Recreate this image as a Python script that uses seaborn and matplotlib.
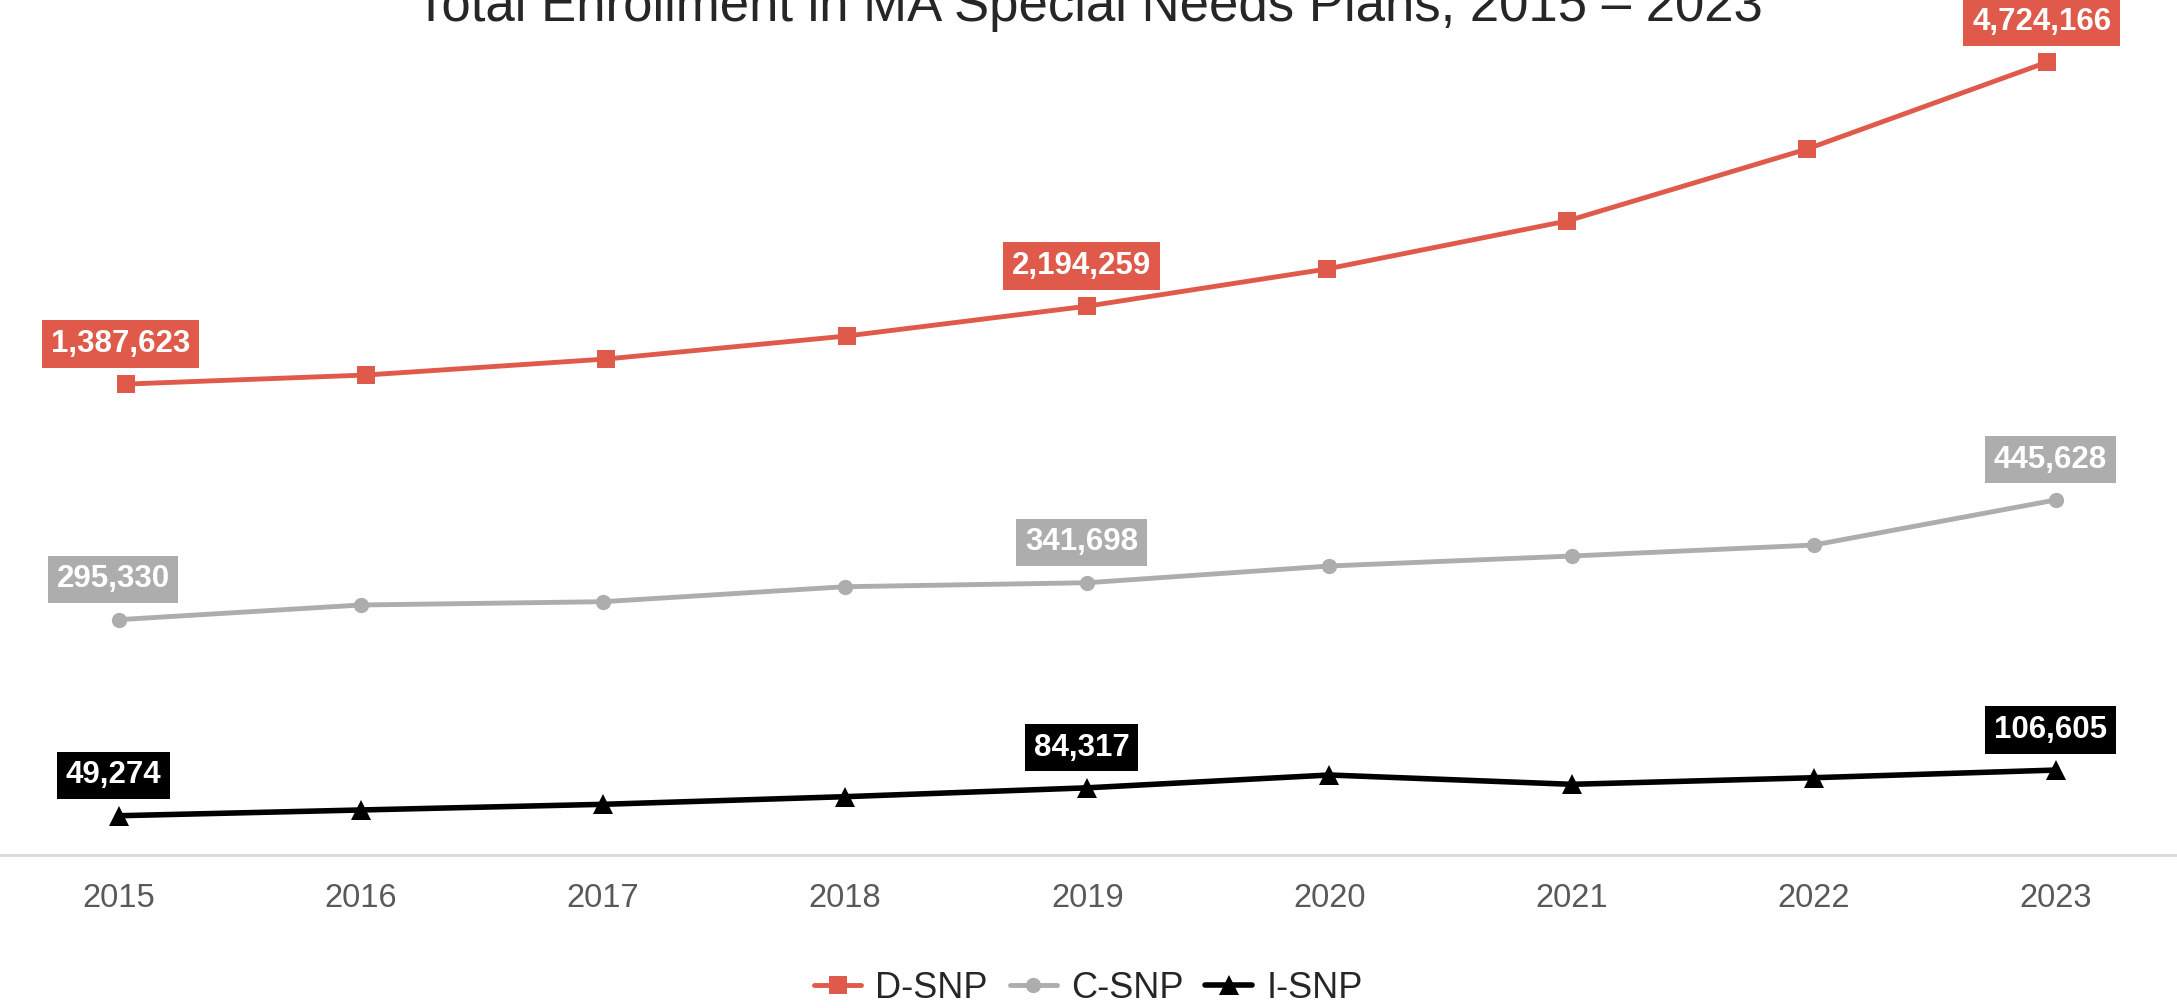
import pandas as pd
import seaborn as sns
import matplotlib.pyplot as plt

# enrollment values
years = [2015, 2016, 2017, 2018, 2019, 2020, 2021, 2022, 2023]
d_snp = [1387623, 1481800, 1647600, 1885900, 2194259, 2580100, 3077500, 3823600, 4724166]
c_snp = [295330, 313750, 317900, 336700, 341698, 362700, 375200, 389000, 445628]
i_snp = [49274, 56500, 63600, 73200, 84317, 100400, 88700, 97000, 106605]
label_years = [2015, 2019, 2023]
series_names = ['D-SNP', 'C-SNP', 'I-SNP']
title = 'Total Enrollment in MA Special Needs Plans, 2015 \u2013 2023'

red = '#E05A4B'
grey = '#ADADAD'
black = '#000000'

sns.set_style('white')
plt.rcParams['font.family'] = ['Liberation Sans', 'DejaVu Sans']

fig = plt.figure(figsize=(21.77, 10.08), dpi=100)
rect = [0, 153 / 1008, 1, 855 / 1008]
ax = fig.add_axes(rect)
# D-SNP sits on its own hidden secondary scale (own x and y)
ax2 = fig.add_axes(rect)
ax2.patch.set_visible(False)

df = pd.DataFrame({'year': years, 'D-SNP': d_snp, 'C-SNP': c_snp, 'I-SNP': i_snp})

sns.lineplot(data=df, x='year', y='C-SNP', ax=ax, color=grey, lw=3.5,
             marker='o', markersize=11, markeredgewidth=0)
sns.lineplot(data=df, x='year', y='I-SNP', ax=ax, color=black, lw=4,
             marker='^', markersize=15, markeredgewidth=0)
sns.lineplot(data=df, x='year', y='D-SNP', ax=ax2, color=red, lw=3.5,
             marker='s', markersize=13, markeredgewidth=0)

ax.set_ylim(0, 855 * 1255)
ax.set_xlim(2014.51, 2023.5)
ax2.set_ylim(-337 * 10362, 518 * 10362)
ax2.set_xlim(2014.475, 2023.54)

for a in (ax, ax2):
    a.set_yticks([])
    a.set_ylabel('')
    a.set_xlabel('')
    for s in ['top', 'left', 'right']:
        a.spines[s].set_visible(False)
ax2.spines['bottom'].set_visible(False)
ax2.set_xticks([])
ax.spines['bottom'].set_color('#D9D9D9')
ax.spines['bottom'].set_linewidth(2)

ax.set_xticks(years)
ax.set_xticklabels([str(y) for y in years])
ax.tick_params(axis='x', length=0, pad=20, labelsize=23.5, labelcolor='#595959')

for a, col, vals in [(ax2, red, d_snp), (ax, grey, c_snp), (ax, black, i_snp)]:
    for yr, v in zip(years, vals):
        if yr in label_years:
            a.annotate(f'{v:,}', xy=(yr, v), xytext=(-4, 29), textcoords='offset points',
                       ha='center', va='center', color='white', fontweight='bold',
                       fontsize=22.5, annotation_clip=False,
                       bbox=dict(boxstyle='square,pad=0.28', fc=col, ec='none'))

fig.text(0.5, 1 - 21 / 1008, title, ha='center', va='baseline', fontsize=38)

handles = [ax2.lines[0], ax.lines[0], ax.lines[1]]
fig.legend(handles, series_names, loc='center', bbox_to_anchor=(0.5, 1 - 988 / 1008),
           ncol=3, frameon=False, fontsize=26, handlelength=1.3,
           handletextpad=0.4, columnspacing=0.6, borderpad=0)

fig.savefig('out.png', dpi=100)
